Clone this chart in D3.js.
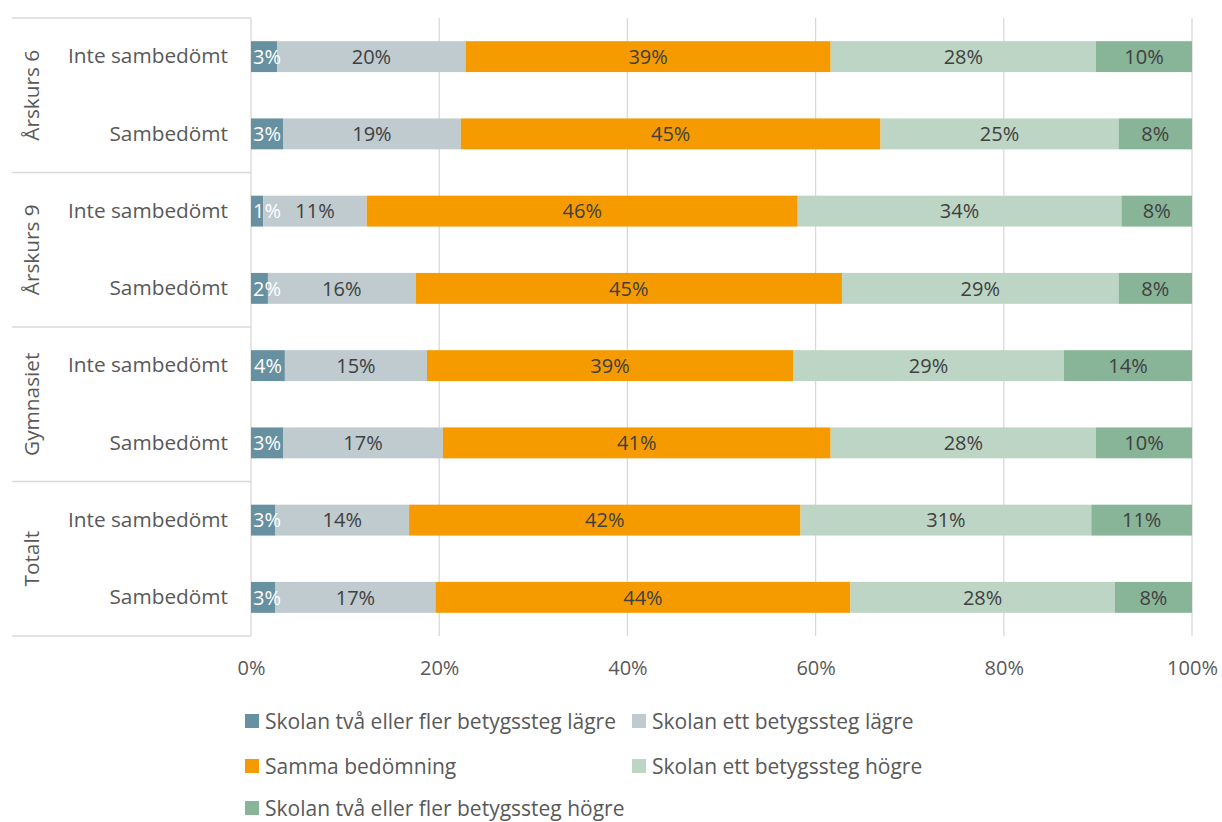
<!DOCTYPE html>
<html>
<head>
<meta charset="utf-8">
<script src="https://cdn.jsdelivr.net/npm/d3@7"></script>
<style>
  body { margin: 0; background: #fff; }
  text { font-family: "Open Sans", sans-serif; }
</style>
</head>
<body>
<svg id="chart" width="1222" height="822"></svg>
<script>
// Groups and the two rows inside each group (top to bottom)
const groups = ["Årskurs 6", "Årskurs 9", "Gymnasiet", "Totalt"];
const subgroups = ["Inte sambedömt", "Sambedömt"];

// Series names (legend order = stacking order)
const seriesNames = [
  "Skolan två eller fler betygssteg lägre",
  "Skolan ett betygssteg lägre",
  "Samma bedömning",
  "Skolan ett betygssteg högre",
  "Skolan två eller fler betygssteg högre"
];

// Share in percent per row: Å6 inte, Å6 samb, Å9 inte, Å9 samb, Gy inte, Gy samb, Tot inte, Tot samb
const twoLower  = [2.8, 3.4, 1.3, 1.8, 3.6, 3.4, 2.6, 2.6];
const oneLower  = [20.0, 18.9, 11.0, 15.7, 15.1, 17.0, 14.2, 17.0];
const same      = [38.8, 44.6, 45.8, 45.3, 38.9, 41.2, 41.6, 44.1];
const oneHigher = [28.2, 25.3, 34.4, 29.4, 28.8, 28.2, 30.9, 28.1];
const twoHigher = [10.2, 7.8, 7.5, 7.8, 13.6, 10.2, 10.7, 8.2];

const xTicks = [0, 20, 40, 60, 80, 100];

const colors = ["#6790A0", "#BFCBCF", "#F59B00", "#BDD5C4", "#88B498"];
const labelColors = ["#ffffff", "#404040", "#404040", "#404040", "#404040"];

// Build row table
const seriesValues = [twoLower, oneLower, same, oneHigher, twoHigher];
const rows = [];
groups.forEach((g, gi) => {
  subgroups.forEach((s, si) => {
    const i = gi * subgroups.length + si;
    const row = { id: i, group: g, sub: s };
    seriesNames.forEach((n, k) => row[n] = seriesValues[k][i]);
    rows.push(row);
  });
});

const svg = d3.select("#chart");
const plotLeft = 251, plotRight = 1192, plotTop = 18, plotBottom = 636;

const x = d3.scaleLinear().domain([0, 100]).range([plotLeft, plotRight]);
const y = d3.scaleBand()
  .domain(rows.map(d => d.id))
  .range([plotTop, plotBottom])
  .paddingInner(0.6)
  .paddingOuter(0.3);

// Vertical gridlines
svg.append("g").selectAll("line")
  .data(xTicks)
  .join("line")
  .attr("x1", d => x(d)).attr("x2", d => x(d))
  .attr("y1", plotTop).attr("y2", plotBottom)
  .attr("stroke", "#D9D9D9").attr("stroke-width", 1.3);

// Group separators on the category axis
const sepY = d3.range(groups.length + 1).map(k => plotTop + k * subgroups.length * y.step());
svg.append("g").selectAll("line")
  .data(sepY)
  .join("line")
  .attr("x1", 12).attr("x2", plotLeft)
  .attr("y1", d => d).attr("y2", d => d)
  .attr("stroke", "#D9D9D9").attr("stroke-width", 1.3);

// Stacked bars
const stack = d3.stack().keys(seriesNames);
const stacked = stack(rows);

const layer = svg.append("g").selectAll("g")
  .data(stacked)
  .join("g")
  .attr("fill", (d, i) => colors[i]);

layer.selectAll("rect")
  .data(d => d)
  .join("rect")
  .attr("x", d => x(d[0]))
  .attr("width", d => x(d[1]) - x(d[0]))
  .attr("y", d => y(d.data.id))
  .attr("height", y.bandwidth());

// Data labels, centred in each segment but kept inside the plot's left edge
const labels = svg.append("g").selectAll("g")
  .data(stacked)
  .join("g")
  .attr("fill", (d, i) => labelColors[i]);

labels.selectAll("text")
  .data(d => d)
  .join("text")
  .attr("y", d => y(d.data.id) + y.bandwidth() / 2)
  .attr("dy", "0.36em")
  .attr("text-anchor", "middle")
  .attr("font-size", 20)
  .text(d => Math.round(d[1] - d[0]) + "%")
  .attr("x", function(d) {
    const half = this.getComputedTextLength() / 2;
    return Math.max(x((d[0] + d[1]) / 2), plotLeft + 2 + half);
  });

// X axis
const xAxis = d3.axisBottom(x)
  .tickValues(xTicks)
  .tickSize(0)
  .tickPadding(25)
  .tickFormat(d => d + "%");
const gx = svg.append("g").attr("transform", `translate(0,${plotBottom})`).call(xAxis);
gx.select(".domain").remove();
gx.selectAll("text").attr("font-size", 20).attr("fill", "#595959")
  .attr("font-family", "'Open Sans', sans-serif");

// Row labels
const yAxis = d3.axisLeft(y)
  .tickSize(0)
  .tickPadding(23)
  .tickFormat(id => rows[id].sub);
const gy = svg.append("g").attr("transform", `translate(${plotLeft},0)`).call(yAxis);
gy.select(".domain").remove();
gy.selectAll("text").attr("font-size", 20.8).attr("fill", "#595959")
  .attr("font-family", "'Open Sans', sans-serif");

// Group labels (rotated)
svg.append("g").selectAll("text")
  .data(groups)
  .join("text")
  .attr("transform", (d, k) => `translate(39,${(sepY[k] + sepY[k + 1]) / 2}) rotate(-90)`)
  .attr("text-anchor", "middle")
  .attr("font-size", 20.8)
  .attr("fill", "#595959")
  .text(d => d);

// Legend
const legendPos = [[245, 721], [632, 721], [245, 766], [632, 766], [245, 808]];
const legend = svg.append("g").selectAll("g")
  .data(seriesNames)
  .join("g")
  .attr("transform", (d, i) => `translate(${legendPos[i][0]},${legendPos[i][1]})`);
legend.append("rect")
  .attr("x", 0).attr("y", -7).attr("width", 14).attr("height", 14)
  .attr("fill", (d, i) => colors[i]);
legend.append("text")
  .attr("x", 20).attr("dy", "0.36em")
  .attr("font-size", 21)
  .attr("fill", "#595959")
  .text(d => d);
</script>
</body>
</html>
